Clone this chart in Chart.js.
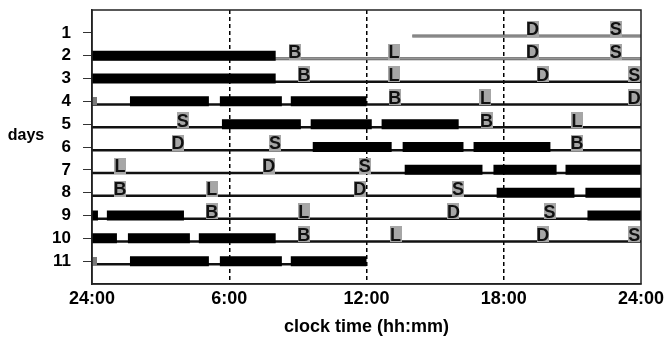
<!DOCTYPE html>
<html>
<head>
<meta charset="utf-8">
<script src="https://cdn.jsdelivr.net/npm/chart.js@4"></script>
<style>
  body { margin: 0; background: #fff; }
  #wrap { width: 665px; height: 343px; }
</style>
</head>
<body>
<div id="wrap"><canvas id="chart"></canvas></div>
<script>
// days on the y axis, clock time (hours after midnight) on the x axis
const dayLabels = ['1', '2', '3', '4', '5', '6', '7', '8', '9', '10', '11'];
const hourTicks = [0, 6, 12, 18, 24];
const hourLabels = ['24:00', '6:00', '12:00', '18:00', '24:00'];

// sleep bouts per day [start, end] (thick black bars)
const sleepBouts = [
  [],
  [[0, 8.03]],
  [[0, 8.03]],
  [[1.66, 5.11], [5.59, 8.3], [8.69, 12]],
  [[5.68, 9.13], [9.56, 12.23], [12.66, 16.03]],
  [[9.65, 13.1], [13.58, 16.24], [16.68, 20.04]],
  [[13.67, 17.07], [17.55, 20.31], [20.7, 24]],
  [[17.69, 21.09], [21.57, 24]],
  [[0, 0.26], [0.65, 4.02], [21.66, 24]],
  [[0, 1.09], [1.57, 4.28], [4.67, 8.03]],
  [[1.66, 5.11], [5.59, 8.3], [8.69, 12]]
];

// span of the thin line per day
const daySpans = [
  [14, 24], [0, 24], [0, 24], [0, 24], [0, 24], [0, 24],
  [0, 24], [0, 24], [0, 24], [0, 24], [0, 12]
];

// meals per day: B breakfast, L lunch, D dinner, S snack
const meals = [
  [['D', 19.26], ['S', 22.9]],
  [['B', 8.86], ['L', 13.2], ['D', 19.26], ['S', 22.9]],
  [['B', 9.27], ['L', 13.2], ['D', 19.7], ['S', 23.7]],
  [['B', 13.23], ['L', 17.2], ['D', 23.7]],
  [['S', 3.97], ['B', 17.25], ['L', 21.2]],
  [['D', 3.76], ['S', 8.0], ['B', 21.2]],
  [['L', 1.22], ['D', 7.73], ['S', 11.92]],
  [['B', 1.22], ['L', 5.24], ['D', 11.7], ['S', 16.0]],
  [['B', 5.24], ['L', 9.26], ['D', 15.8], ['S', 20.0]],
  [['B', 9.26], ['L', 13.27], ['D', 19.7], ['S', 23.7]],
  []
];

// small grey marks at the start of some days [day, hour]
const startMarks = [[4, 0.1], [11, 0.1]];

function boxImage(w, h, color) {
  const c = document.createElement('canvas');
  c.width = w; c.height = h;
  const g = c.getContext('2d');
  g.fillStyle = color;
  g.fillRect(0, 0, w, h);
  return c;
}

function segPoints(segs, y) {
  const pts = [];
  segs.forEach((s, i) => {
    if (i > 0) pts.push({ x: s[0], y: null });
    pts.push({ x: s[0], y: y }, { x: s[1], y: y });
  });
  return pts;
}

const datasets = [];

// meal letters (grey box drawn as point, letter added by plugin)
const mealPoints = [];
meals.forEach((list, i) => {
  list.forEach(m => mealPoints.push({ x: m[1], y: i + 1 - 0.18, l: m[0] }));
});
datasets.push({
  label: 'meals',
  data: mealPoints,
  showLine: false,
  pointStyle: boxImage(12, 16, '#a6a6a6'),
  pointRadius: 8,
  order: 0
});

datasets.push({
  label: 'marks',
  data: startMarks.map(m => ({ x: m[1], y: m[0] })),
  showLine: false,
  pointStyle: boxImage(5, 8, '#7a7a7a'),
  pointRadius: 4,
  order: 0
});

sleepBouts.forEach((segs, i) => {
  if (!segs.length) return;
  datasets.push({
    label: 'sleep ' + dayLabels[i],
    data: segPoints(segs, i + 1),
    borderColor: '#000',
    borderWidth: 10,
    pointRadius: 0,
    spanGaps: false,
    order: 1
  });
});

daySpans.forEach((span, i) => {
  const grey = i < 2;
  datasets.push({
    label: 'day ' + dayLabels[i],
    data: segPoints([span], i + 1 + 0.14),
    borderColor: grey ? '#5a5a5a' : '#111',
    borderWidth: grey ? 3 : 2.5,
    pointRadius: 0,
    order: 3
  });
  if (grey) {
    datasets.push({
      label: 'day inner ' + dayLabels[i],
      data: segPoints([span], i + 1 + 0.14),
      borderColor: '#b5b5b5',
      borderWidth: 1,
      pointRadius: 0,
      order: 2
    });
  }
});

const letterPlugin = {
  id: 'letters',
  afterDatasetsDraw(chart) {
    const meta = chart.getDatasetMeta(0);
    const ctx = chart.ctx;
    ctx.save();
    ctx.fillStyle = '#111';
    ctx.font = 'bold 18px "Liberation Sans", Arial, sans-serif';
    ctx.textAlign = 'center';
    ctx.textBaseline = 'alphabetic';
    meta.data.forEach((el, i) => {
      ctx.fillText(mealPoints[i].l, el.x, el.y + 6.5);
    });
    ctx.restore();
  }
};

const framePlugin = {
  id: 'frame',
  afterDraw(chart) {
    const a = chart.chartArea;
    const ctx = chart.ctx;
    ctx.save();
    ctx.strokeStyle = '#222';
    ctx.lineWidth = 1.5;
    ctx.strokeRect(a.left, a.top, a.right - a.left, a.bottom - a.top);
    ctx.fillStyle = '#000';
    ctx.font = 'bold 16px "Liberation Sans", Arial, sans-serif';
    ctx.textAlign = 'center';
    ctx.textBaseline = 'middle';
    ctx.fillText('days', 26, 136);
    ctx.restore();
  }
};

new Chart(document.getElementById('chart'), {
  type: 'line',
  data: { datasets: datasets },
  options: {
    responsive: true,
    maintainAspectRatio: false,
    animation: false,
    events: [],
    layout: { padding: { top: 10, right: 24, left: 0, bottom: 0 } },
    plugins: { legend: { display: false }, tooltip: { enabled: false } },
    scales: {
      x: {
        type: 'linear',
        min: 0,
        max: 24,
        afterBuildTicks: s => { s.ticks = hourTicks.map(v => ({ value: v })); },
        afterFit: s => { s.height = 59; s.paddingLeft = 0; s.paddingRight = 0; },
        ticks: {
          color: '#000',
          padding: 4,
          maxRotation: 0,
          font: { family: '"Liberation Sans", Arial, sans-serif', size: 18, weight: 'bold' },
          callback: v => hourLabels[hourTicks.indexOf(v)]
        },
        grid: {
          drawTicks: false,
          lineWidth: 1.5,
          color: c => (c.tick && c.tick.value > 0 && c.tick.value < 24) ? '#000' : 'rgba(0,0,0,0)'
        },
        border: { display: true, color: '#222', width: 1.5, dash: [4, 3] },
        title: {
          display: true,
          text: 'clock time (hh:mm)',
          color: '#000',
          padding: { top: 0, bottom: 5 },
          font: { family: '"Liberation Sans", Arial, sans-serif', size: 18, weight: 'bold' }
        }
      },
      y: {
        type: 'linear',
        min: 0,
        max: 12,
        reverse: true,
        afterBuildTicks: s => { s.ticks = dayLabels.map((d, i) => ({ value: i + 1 })); },
        afterFit: s => { s.width = 92; s.paddingTop = 0; s.paddingBottom = 0; },
        ticks: {
          color: '#000',
          padding: 12,
          font: { family: '"Liberation Sans", Arial, sans-serif', size: 17, weight: 'bold' },
          callback: v => dayLabels[v - 1]
        },
        grid: {
          drawOnChartArea: false,
          drawTicks: true,
          tickLength: 9,
          tickColor: '#333',
          tickWidth: 1
        },
        border: { display: true, color: '#222', width: 1.5 }
      }
    }
  },
  plugins: [letterPlugin, framePlugin]
});
</script>
</body>
</html>
